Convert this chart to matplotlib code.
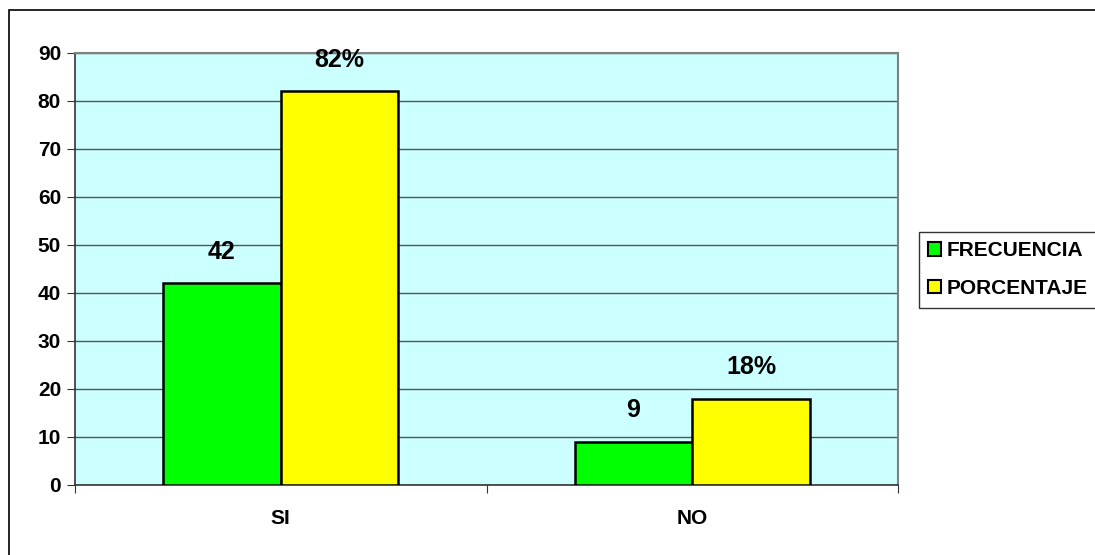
import matplotlib
matplotlib.use("Agg")
import matplotlib.pyplot as plt
from matplotlib.patches import Rectangle, Patch
import numpy as np

categories = ["SI", "NO"]
frecuencia = [42, 9]
porcentaje = [82, 18]
frec_labels = ["42", "9"]
porc_labels = ["82%", "18%"]
series_names = ["FRECUENCIA", "PORCENTAJE"]
yticks = [0, 10, 20, 30, 40, 50, 60, 70, 80, 90]

plt.rcParams['font.family'] = ['Liberation Sans', 'DejaVu Sans']
plt.rcParams['font.weight'] = 'bold'

W, H = 1095, 555
fig = plt.figure(figsize=(W / 100, H / 100), dpi=100)

# outer chart frame
fig.patches.append(Rectangle((9 / W, -0.1), 1.2, (H - 10) / H + 0.1,
                             transform=fig.transFigure, fill=False,
                             edgecolor='black', linewidth=1.2, zorder=0))

ax = fig.add_axes([75 / W, (H - 485) / H, (898 - 75) / W, (485 - 53) / H])
ax.set_facecolor('#CCFFFF')

x = np.arange(len(categories))
w = 1 / 3.5
ax.bar(x - w / 2, frecuencia, w, color='#00FF00', edgecolor='black', linewidth=1.8, zorder=3)
ax.bar(x + w / 2, porcentaje, w, color='#FFFF00', edgecolor='black', linewidth=1.8, zorder=3)

for xi, v, lab in zip(x - w / 2, frecuencia, frec_labels):
    ax.text(xi, v + 6.6, lab, ha='center', va='center', fontsize=18, fontweight='bold')
for xi, v, lab in zip(x + w / 2, porcentaje, porc_labels):
    ax.text(xi, v + 6.6, lab, ha='center', va='center', fontsize=18, fontweight='bold')

ax.set_xlim(-0.5, 1.5)
ax.set_ylim(0, 90)
ax.set_yticks(yticks)
ax.set_yticklabels([str(t) for t in yticks], fontsize=15, fontweight='bold')
ax.yaxis.grid(True, color='#555555', linewidth=1.0, zorder=1)
ax.set_axisbelow(True)

ax.set_xticks([-0.5, 0.5, 1.5], minor=False)
ax.set_xticklabels([])
ax.set_xticks(x, minor=True)
ax.set_xticklabels(categories, minor=True, fontsize=15, fontweight='bold')
ax.tick_params(axis='x', which='major', length=6, direction='out', color='#333333')
ax.tick_params(axis='x', which='minor', length=0, pad=17)
ax.tick_params(axis='y', length=6, direction='out', color='#333333', pad=4)

for s in ['top', 'right']:
    ax.spines[s].set_color('#808080')
    ax.spines[s].set_linewidth(1.5)
ax.spines['left'].set_color('#333333')
ax.spines['bottom'].set_color('#333333')
ax.spines['left'].set_linewidth(1.2)
ax.spines['bottom'].set_linewidth(1.2)

handles = [Patch(facecolor='#00FF00', edgecolor='black', linewidth=1.5),
           Patch(facecolor='#FFFF00', edgecolor='black', linewidth=1.5)]
leg = fig.legend(handles, series_names, loc='upper left',
                 bbox_to_anchor=(919 / W, (H - 232) / H),
                 prop={'weight': 'bold', 'size': 15},
                 handlelength=0.6, handleheight=0.6, handletextpad=0.3,
                 borderpad=0.45, labelspacing=0.9, borderaxespad=0,
                 fancybox=False, frameon=True)
leg.get_frame().set_edgecolor('black')
leg.get_frame().set_linewidth(1.0)

fig.savefig('out.png', dpi=100)
